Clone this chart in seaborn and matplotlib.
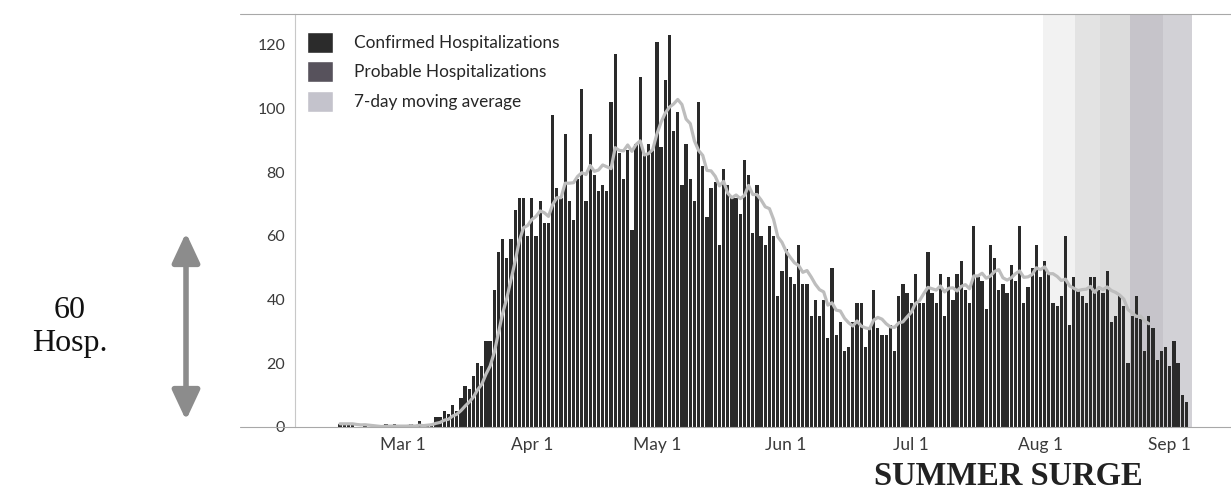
import matplotlib.dates as mdates
import matplotlib.pyplot as plt
import numpy as np
import pandas as pd
import seaborn as sns
from matplotlib.lines import Line2D
from matplotlib.patches import FancyArrowPatch, Patch

# Daily hospitalizations, one value per day from Feb 15
start_date = "2020-02-15"
daily_hosp = [
    1, 1, 1, 1, 0, 0, 1, 0, 0, 0, 0, 1, 0, 1, 0, 0, 0, 1, 0,
    2, 0, 1, 1, 3, 3, 5, 4, 7, 5, 9, 13, 12, 16, 20, 19, 27, 27, 43, 55,
    59, 53, 59, 68, 72, 72, 60, 72, 60, 71, 64, 64, 98, 75, 72, 92, 71, 65, 78, 106,
    71, 92, 79, 74, 76, 74, 102, 117, 86, 78, 87, 62, 89, 110, 86, 89, 87, 121, 88, 109,
    123, 93, 99, 76, 89, 78, 71, 102, 82, 66, 75, 77, 57, 81, 76, 72, 72, 67, 84, 79,
    61, 76, 60, 57, 63, 60, 41, 49, 56, 47, 45, 57, 45, 45, 35, 40, 35, 40, 28, 50,
    29, 33, 24, 25, 33, 39, 39, 25, 31, 43, 31, 29, 29, 32, 24, 41, 45, 42, 39, 48,
    39, 39, 55, 42, 39, 48, 35, 47, 40, 48, 52, 43, 39, 63, 47, 46, 37, 57, 53, 43,
    45, 42, 51, 46, 63, 39, 44, 50, 57, 47, 52, 48, 39, 38, 41, 60, 32, 47, 43, 41,
    39, 47, 47, 43, 42, 49, 33, 35, 41, 38, 20, 35, 41, 34, 24, 35, 31, 21, 24, 25,
    19, 27, 20, 10, 8,
]
avg_last_date = "2020-08-27"  # moving average is not drawn for the latest days
legend_labels = ["Confirmed Hospitalizations", "Probable Hospitalizations", "7-day moving average"]
y_ticks = [0, 20, 40, 60, 80, 100, 120]

dates = pd.date_range(start_date, periods=len(daily_hosp), freq="D")
df = pd.DataFrame({"date": dates, "hosp": daily_hosp})
df["day"] = mdates.date2num(df["date"])
df["avg"] = df["hosp"].rolling(7, min_periods=1).mean()
df.loc[df["date"] > pd.Timestamp(avg_last_date), "avg"] = np.nan

W, H = 1231, 495
sns.set_theme(style="white")
plt.rcParams["font.family"] = ["Lato", "DejaVu Sans"]

fig = plt.figure(figsize=(W / 100, H / 100), dpi=100)
ax = fig.add_axes([295 / W, 1 - 427 / H, (W - 295) / W, (427 - 14) / H])

# grey highlight bands over the late summer (in days from the first date)
day0 = df["day"].iloc[0]
bands = [(168.6, 176.3, "#f2f2f2"), (176.3, 182.3, "#e3e3e3"), (182.3, 189.4, "#dcdcdc"),
         (189.4, 197.4, "#c6c4ca"), (197.4, 204.3, "#d2d1d6")]
for a, b, c in bands:
    ax.axvspan(day0 + a, day0 + b, color=c, lw=0, zorder=0)

sns.barplot(data=df, x="day", y="hosp", native_scale=True, color="#2a2a2a",
            saturation=1, width=0.78, errorbar=None, ax=ax, zorder=2, linewidth=0)
sns.lineplot(data=df, x="day", y="avg", color="#bdbdbd", lw=2.3, ax=ax, zorder=3, legend=False)

ax.set_xlim(day0 - 10.8, day0 + 213.7)
ax.set_ylim(0, 129.7)
ax.set_yticks(y_ticks)
ax.xaxis.set_major_locator(mdates.MonthLocator(bymonth=range(3, 10)))
ax.xaxis.set_major_formatter(mdates.DateFormatter("%b 1"))
ax.tick_params(axis="x", length=0, pad=7, labelsize=12.5, labelcolor="#3a3a3a")
ax.tick_params(axis="y", length=0, pad=7, labelsize=11.5, labelcolor="#3a3a3a")
ax.set_xlabel("")
ax.set_ylabel("")
for s in ["top", "right", "bottom"]:
    ax.spines[s].set_visible(False)
ax.spines["left"].set_color("#c8c8c8")
ax.spines["left"].set_linewidth(0.8)

# chart frame lines
fig.add_artist(Line2D([240 / W, 1], [1 - 14 / H] * 2, transform=fig.transFigure, color="#a8a8a8", lw=0.8))
fig.add_artist(Line2D([240 / W, 1], [1 - 427 / H] * 2, transform=fig.transFigure, color="#a8a8a8", lw=0.8))

handles = [Patch(fc="#2b2b2b"), Patch(fc="#57525c"), Patch(fc="#c4c3cc")]
ax.legend(handles, legend_labels, loc="upper left", bbox_to_anchor=(307 / W, 1 - 32 / H),
          bbox_transform=fig.transFigure, frameon=False, borderpad=0, borderaxespad=0,
          handlelength=1.5, handleheight=1.5, handletextpad=1.2, labelspacing=0.48,
          prop={"family": "Lato", "size": 12.4})

# side annotation
fig.text(70 / W, 1 - 310 / H, "60", ha="center", va="center", fontsize=23,
         family="Liberation Serif", color="#111111")
fig.text(70 / W, 1 - 344 / H, "Hosp.", ha="center", va="center", fontsize=23,
         family="Liberation Serif", color="#111111")
fig.add_artist(FancyArrowPatch(
    (186 / W, 1 - 423 / H), (186 / W, 1 - 230 / H), transform=fig.transFigure,
    arrowstyle="<|-|>,head_length=0.9,head_width=0.42", mutation_scale=20,
    color="#8c8c8c", lw=4))
fig.text(1008 / W, 1 - 485 / H, "SUMMER SURGE", ha="center", va="baseline", fontsize=23.5,
         family="Liberation Serif", weight="bold", color="#222222")

fig.savefig("out.png", dpi=100)
